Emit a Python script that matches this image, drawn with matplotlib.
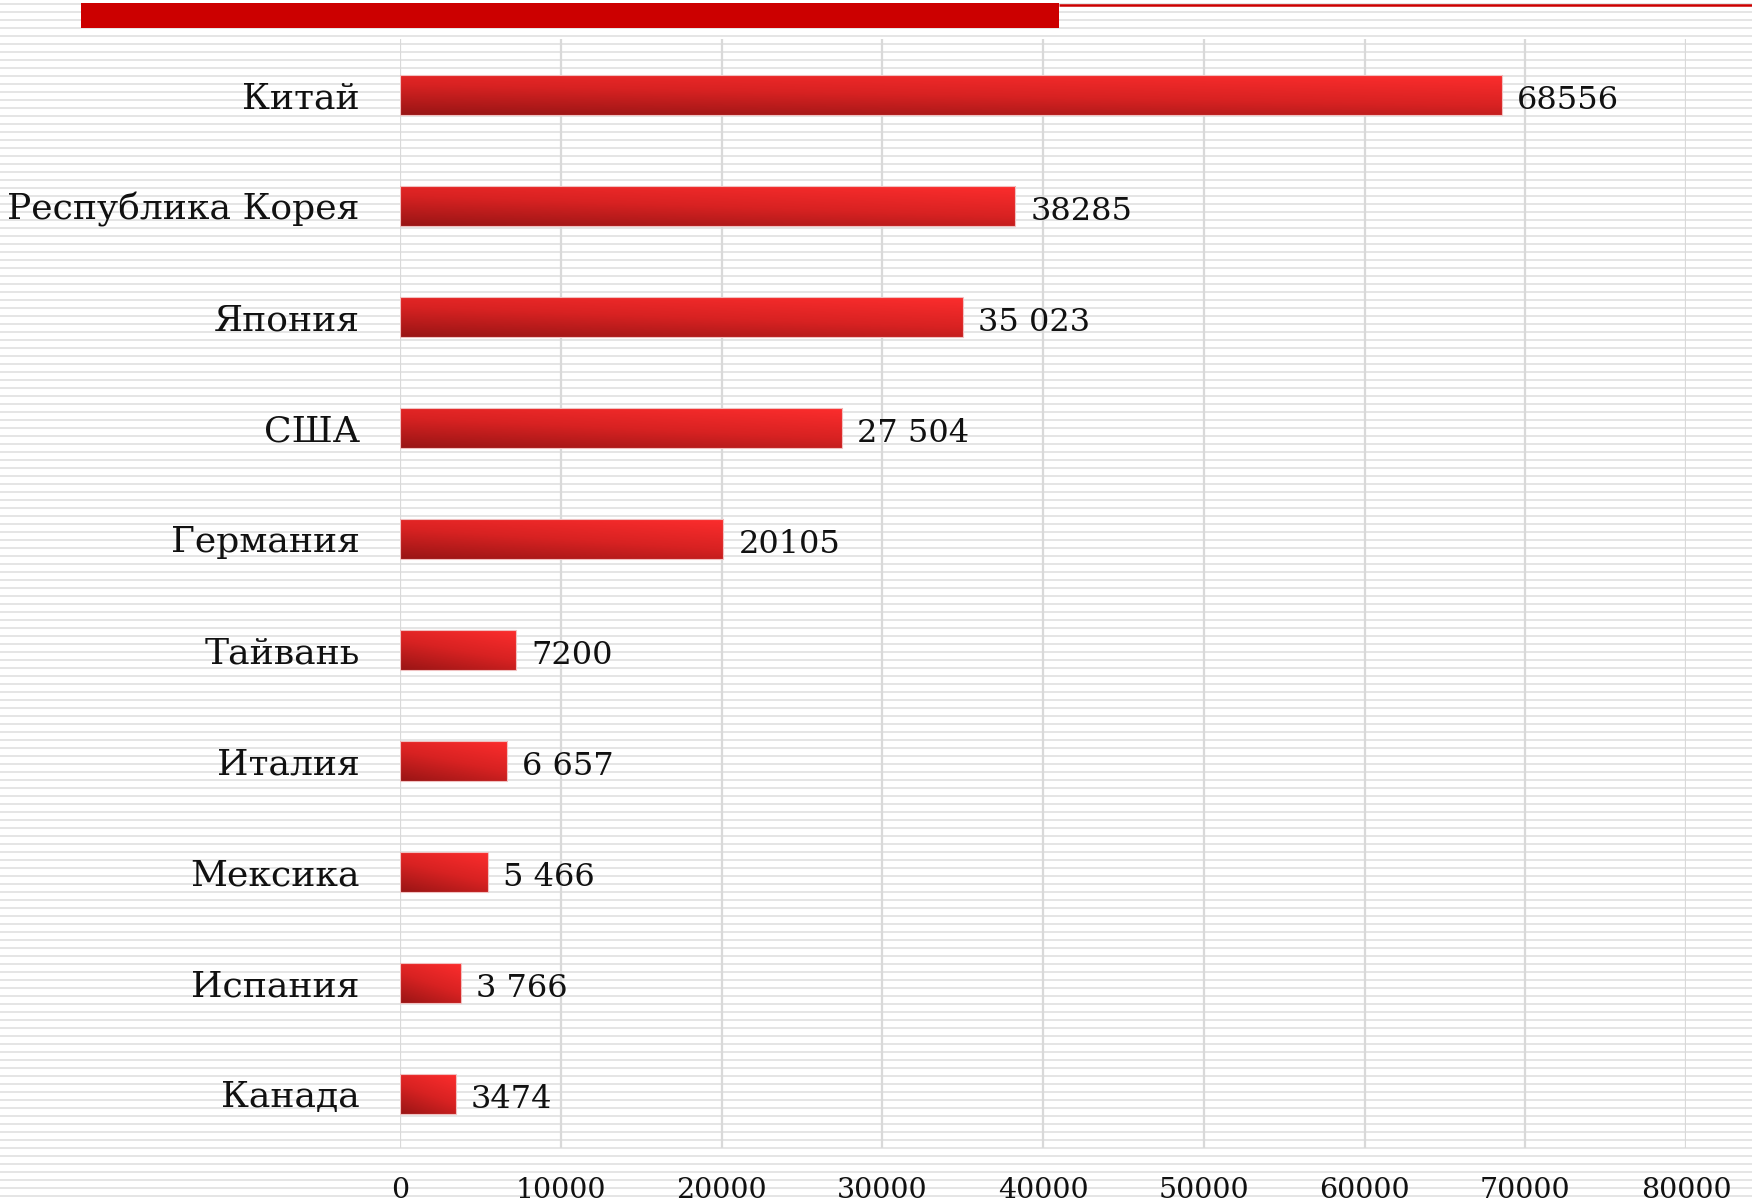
import numpy as np
import matplotlib
matplotlib.use("Agg")
import matplotlib.pyplot as plt
from matplotlib.colors import LinearSegmentedColormap
from matplotlib.patches import Rectangle

# data
countries = ["Китай", "Республика Корея", "Япония", "США", "Германия",
             "Тайвань", "Италия", "Мексика", "Испания", "Канада"]
values = [68556, 38285, 35023, 27504, 20105, 7200, 6657, 5466, 3766, 3474]
value_labels = ["68556", "38285", "35 023", "27 504", "20105",
                "7200", "6 657", "5 466", "3 766", "3474"]
x_ticks = [0, 10000, 20000, 30000, 40000, 50000, 60000, 70000, 80000]

plt.rcParams['font.family'] = ['DejaVu Serif']

W, H = 1752, 1202
fig = plt.figure(figsize=(W / 100, H / 100), dpi=100)
fig.patch.set_facecolor("white")

# background: thin horizontal stripes and red header bar
bg = fig.add_axes([0, 0, 1, 1], zorder=0)
bg.set_xlim(0, W)
bg.set_ylim(H, 0)
bg.axis("off")
bg.hlines(np.arange(4, H, 8), 0, W, color="#e0e0e0", lw=1.2, zorder=1)
bg.add_patch(Rectangle((81, 3), 1059 - 81, 25, color="#cc0000", lw=0, zorder=5))
bg.plot([1059, W], [4.5, 4.5], color="#cc0000", lw=1.8, solid_capstyle="butt", zorder=5)

# main chart
ax = fig.add_axes([400 / W, 1 - 1148 / H, (1686 - 400) / W, (1148 - 39) / H], zorder=1)
ax.patch.set_visible(False)

cmap = LinearSegmentedColormap.from_list("redgrad", ["#991515", "#d82222", "#fc2d2d"])
gx, gy = np.meshgrid(np.linspace(0, 1, 200), np.linspace(0, 1, 60))
grad = 0.35 * gx + 0.65 * gy

ypos = np.arange(len(countries))
bar_h = 0.36
bars = ax.barh(ypos, values, height=bar_h, color="none",
               edgecolor="#f0c0c0", linewidth=0.8, zorder=4)
for bar, y, v in zip(bars, ypos, values):
    im = ax.imshow(grad, extent=(0, v, y + bar_h / 2, y - bar_h / 2), origin="lower",
                   cmap=cmap, aspect="auto", interpolation="bicubic", zorder=3)
    im.set_clip_path(bar)

for y, v, lab in zip(ypos, values, value_labels):
    ax.annotate(lab, (v, y), xytext=(11, -4), textcoords="offset points",
                va="center", ha="left", fontsize=23, color="#111111")

ax.set_xlim(0, 80000)
ax.set_ylim(9.49, -0.505)
ax.set_xticks(x_ticks)
ax.set_xticklabels([str(t) for t in x_ticks])
ax.set_yticks(ypos)
ax.set_yticklabels(countries)
ax.tick_params(axis="y", length=0, pad=29, labelsize=26, labelcolor="#111111")
ax.tick_params(axis="x", length=0, pad=21, labelsize=20.5, labelcolor="#111111")
ax.grid(axis="x", color="#d9d9d9", lw=1.6)
ax.set_axisbelow(True)
for s in ax.spines.values():
    s.set_visible(False)

fig.savefig("out.png", dpi=100)
